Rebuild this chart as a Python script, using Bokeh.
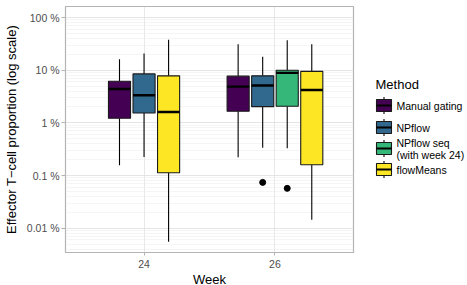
from bokeh.plotting import figure
from bokeh.layouts import row
from bokeh.models import ColumnDataSource, Range1d, FixedTicker, CustomJSTickFormatter
from bokeh.embed import file_html
from bokeh.resources import INLINE
from bokeh.core.properties import value

# ---- data (percent) ----
weeks = ["24", "26"]
methods = ["Manual gating", "NPflow", "NPflow seq\n(with week 24)", "flowMeans"]
colors = ["#440154", "#31688E", "#35B779", "#FDE725"]

box_week = ["24", "24", "24", "26", "26", "26", "26"]
box_method = [0, 1, 3, 0, 1, 2, 3]
whisker_hi = [16.1, 20.7, 37.7, 31.1, 17.9, 37.0, 31.1]
q3 = [6.15, 8.5, 7.8, 7.7, 7.8, 9.97, 9.5]
median = [4.4, 3.33, 1.61, 4.88, 5.1, 8.9, 4.2]
q1 = [1.22, 1.54, 0.113, 1.66, 2.03, 2.06, 0.160]
whisker_lo = [0.156, 0.224, 0.0055, 0.221, 0.338, 0.328, 0.0144]

out_week = ["26", "26"]
out_method = [1, 2]
out_value = [0.074, 0.057]

y_ticks = [0.01, 0.1, 1, 10, 100]

# ---- positions via dodge ----
slot = 0.75 / 4
bw = slot * 0.9

def positions(week_list, method_list):
    xs = []
    for w, m in zip(week_list, method_list):
        grp = [mm for ww, mm in zip(box_week, box_method) if ww == w]
        n = len(grp)
        i = grp.index(m)
        xs.append(weeks.index(w) + 1 + (i - (n - 1) / 2) * slot)
    return xs

bx = positions(box_week, box_method)
ox = positions(out_week, out_method)

src = ColumnDataSource(dict(
    x=bx, xl=[v - bw / 2 for v in bx], xr=[v + bw / 2 for v in bx],
    hi=whisker_hi, q3=q3, med=median, q1=q1, lo=whisker_lo,
    color=[colors[m] for m in box_method],
))

FONT = "Liberation Sans"
GRID = "#DEDEDE"
FT, FB = 6, 252

p = figure(frame_width=288, frame_height=FB - FT, y_axis_type="log",
           x_range=Range1d(0.4, 2.6), y_range=Range1d(10 ** -2.462, 10 ** 2.209),
           output_backend="svg", toolbar_location=None,
           min_border_left=62, min_border_right=2, min_border_top=FT, min_border_bottom=285 - FB)

p.segment(x0="x", y0="q3", x1="x", y1="hi", source=src, line_color="black", line_width=1.1)
p.segment(x0="x", y0="lo", x1="x", y1="q1", source=src, line_color="black", line_width=1.1)
p.vbar(x="x", width=bw, bottom="q1", top="q3", source=src, fill_color="color",
       line_color="#1A1A1A", line_width=1.1)
p.segment(x0="xl", y0="med", x1="xr", y1="med", source=src, line_color="black", line_width=2.4)
p.scatter(ox, out_value, size=6, color="black")

minor = [k * 10.0 ** e for e in range(-3, 3) for k in range(2, 10)]
p.yaxis.ticker = FixedTicker(ticks=y_ticks, minor_ticks=minor)
p.yaxis.formatter = CustomJSTickFormatter(code="return tick.toString() + ' %';")
p.xaxis.ticker = FixedTicker(ticks=[1, 2])
p.xaxis.major_label_overrides = {1: weeks[0], 2: weeks[1]}

for ax in (p.xaxis, p.yaxis):
    ax.axis_line_color = None
    ax.major_tick_line_color = "#B3B3B3"
    ax.major_tick_out = 4
    ax.major_tick_in = 0
    ax.minor_tick_line_color = None
    ax.major_label_text_font = FONT
    ax.major_label_text_font_size = "10.5px"
    ax.major_label_text_color = "#4D4D4D"
    ax.major_label_standoff = 2
    ax.axis_label_text_font = FONT
    ax.axis_label_text_font_size = "13px"
    ax.axis_label_text_font_style = "normal"
    ax.axis_label_text_color = "black"

p.xaxis.axis_label = "Week"
p.xaxis.major_tick_out = 3
p.xaxis.major_label_standoff = 4
p.xaxis.axis_label_standoff = 1
p.yaxis.axis_label = "Effector T\u2212cell proportion (log scale)"
p.yaxis.axis_label_standoff = 5

p.xgrid.grid_line_color = GRID
p.xgrid.grid_line_width = 0.7
p.ygrid.grid_line_color = GRID
p.ygrid.grid_line_width = 0.8
p.ygrid.minor_grid_line_color = "#EBEBEB"
p.ygrid.minor_grid_line_width = 0.5
p.outline_line_color = "#B3B3B3"
p.outline_line_width = 1.2
p.background_fill_color = "white"

# ---- legend panel (frame aligned with main frame; ranges in pixels) ----
lg = figure(width=115, frame_height=FB - FT, x_range=Range1d(352, 467), y_range=Range1d(FB, FT),
            output_backend="svg", toolbar_location=None,
            min_border_left=0, min_border_right=0, min_border_top=FT, min_border_bottom=285 - FB)
lg.axis.visible = False
lg.grid.visible = False
lg.outline_line_color = None

key_y = [105, 127, 148, 169]
kx0, kx1 = 373, 388
kc = (kx0 + kx1) / 2
lsrc = ColumnDataSource(dict(
    y=key_y, yt=[v - 6 for v in key_y], yb=[v + 6 for v in key_y],
    yw0=[v - 8.5 for v in key_y], yw1=[v + 8.5 for v in key_y],
    color=colors, label=methods,
))
lg.segment(x0=kc, y0="yw0", x1=kc, y1="yw1", source=lsrc, line_color="black", line_width=1.1)
lg.quad(left=kx0, right=kx1, top="yt", bottom="yb", source=lsrc, fill_color="color",
        line_color="#1A1A1A", line_width=1.1)
lg.segment(x0=kx0, y0="y", x1=kx1, y1="y", source=lsrc, line_color="black", line_width=2.2)
lg.text(x=393, y="y", text="label", source=lsrc, text_font=value(FONT),
        text_font_size="10.5px", text_baseline="middle", text_align="left",
        text_color="black", text_line_height=1.0)
lg.text(x=[372], y=[84], text=["Method"], text_font=value(FONT), text_font_size="13px",
        text_baseline="middle", text_align="left", text_color="black")

layout = row(p, lg)
open("out.html", "w").write(file_html(layout, INLINE))
